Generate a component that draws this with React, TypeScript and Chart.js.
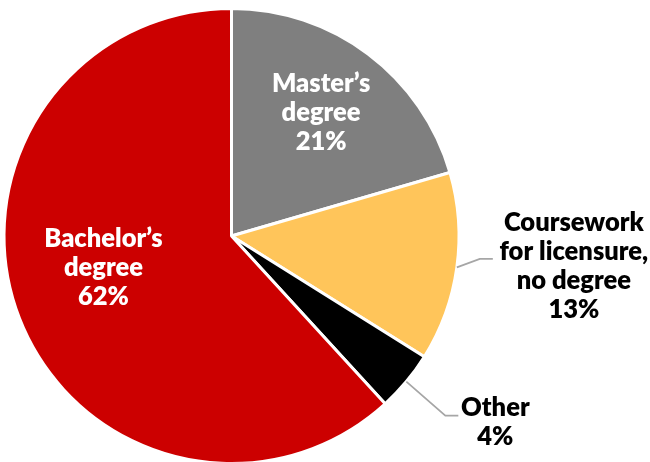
import React, { useEffect, useRef } from "react";
import { Chart, registerables } from "chart.js";

Chart.register(...registerables);

const categories = ["Master’s degree", "Coursework for licensure, no degree", "Other", "Bachelor’s degree"];
const values = [20.5, 13.4, 4.3, 61.8];
const colors = ["#7f7f7f", "#ffc55a", "#000000", "#cc0000"];
const labelNames = [["Master’s", "degree"], ["Coursework", "for licensure,", "no degree"], ["Other"], ["Bachelor’s", "degree"]];
const labelColors = ["#ffffff", "#000000", "#000000", "#ffffff"];

type Lay =
  | { kind: "in"; rf: number; da: number }
  | { kind: "out"; elbow: [number, number]; run: number; tx: number; ty: number };
const layouts: Lay[] = [
  { kind: "in", rf: 0.67, da: -0.9 },
  { kind: "out", elbow: [23, -8.5], run: 13, tx: 117, ty: -1 },
  { kind: "out", elbow: [39, 34], run: 13, tx: 89, ty: 41 },
  { kind: "in", rf: 0.58, da: 7.2 },
];

const FONT = "800 25.5px Lato, 'Open Sans', sans-serif";
const LINE_H = 29;

const labelPlugin = {
  id: "pieLabels",
  afterDatasetsDraw(chart: any) {
    const ctx = chart.ctx as CanvasRenderingContext2D;
    const meta = chart.getDatasetMeta(0);
    meta.data.forEach((arc: any, i: number) => {
      const { x, y, startAngle, endAngle, outerRadius } = arc.getProps(
        ["x", "y", "startAngle", "endAngle", "outerRadius"],
        true
      );
      const mid = (startAngle + endAngle) / 2;
      const lay = layouts[i];
      const lines = [...labelNames[i], Math.round(values[i]) + "%"];
      let cx: number, cy: number;
      ctx.save();
      if (lay.kind === "in") {
        const a = mid + (lay.da * Math.PI) / 180;
        cx = x + Math.cos(a) * outerRadius * lay.rf;
        cy = y + Math.sin(a) * outerRadius * lay.rf;
      } else {
        const sx = x + Math.cos(mid) * outerRadius;
        const sy = y + Math.sin(mid) * outerRadius;
        const ex = sx + lay.elbow[0];
        const ey = sy + lay.elbow[1];
        ctx.strokeStyle = "#a6a6a6";
        ctx.lineWidth = 1.75;
        ctx.beginPath();
        ctx.moveTo(sx, sy);
        ctx.lineTo(ex, ey);
        ctx.lineTo(ex + lay.run, ey);
        ctx.stroke();
        cx = sx + lay.tx;
        cy = sy + lay.ty;
      }
      ctx.font = FONT;
      ctx.fillStyle = labelColors[i];
      ctx.textAlign = "center";
      ctx.textBaseline = "middle";
      const top = cy - ((lines.length - 1) * LINE_H) / 2;
      lines.forEach((t, k) => ctx.fillText(t, cx, top + k * LINE_H));
      ctx.restore();
    });
  },
};

export default function App() {
  const ref = useRef<HTMLCanvasElement | null>(null);
  useEffect(() => {
    if (!ref.current) return;
    const chart = new Chart(ref.current, {
      type: "pie",
      data: {
        labels: categories,
        datasets: [
          {
            data: values,
            backgroundColor: colors,
            borderColor: "#ffffff",
            borderWidth: 3,
            hoverOffset: 0,
          },
        ],
      },
      options: {
        responsive: false,
        animation: false,
        events: [],
        layout: { padding: { left: 2.5, right: 189.5, top: 7, bottom: 15 } },
        plugins: { legend: { display: false }, tooltip: { enabled: false } },
      },
      plugins: [labelPlugin],
    });
    return () => chart.destroy();
  }, []);
  return (
    <div
      style={{
        position: "fixed",
        left: 0,
        top: 0,
        width: 650,
        height: 462,
        overflow: "hidden",
        background: "#ffffff",
      }}
    >
      <canvas ref={ref} width={650} height={480} style={{ display: "block" }} />
    </div>
  );
}
